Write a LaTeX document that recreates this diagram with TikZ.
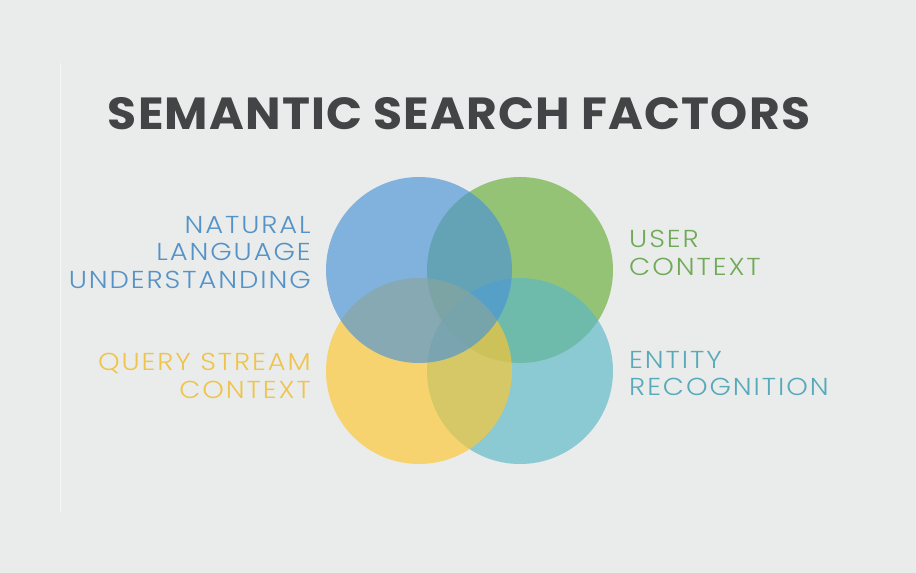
\documentclass[tikz,border=0pt]{standalone}
\usepackage{fontspec}
\setmainfont{Poppins}
\newfontfamily\labfont{Poppins}[UprightFont=* Light, LetterSpace=7]
\newfontfamily\titlefont{Poppins}[UprightFont=* Bold, LetterSpace=2.5]
\definecolor{bgc}{RGB}{233,236,234}
\definecolor{rulec}{RGB}{244,246,245}
\definecolor{titlec}{RGB}{66,68,70}
\definecolor{cblue}{RGB}{74,147,216}
\definecolor{cgreen}{RGB}{105,174,56}
\definecolor{cyellow}{RGB}{255,199,46}
\definecolor{cteal}{RGB}{90,184,200}
\definecolor{tblue}{RGB}{84,146,200}
\definecolor{tgreen}{RGB}{112,170,88}
\definecolor{tyellow}{RGB}{240,196,74}
\definecolor{tteal}{RGB}{88,170,186}
\tikzset{
  disc/.style={circle, minimum size=186pt, inner sep=0pt, fill opacity=0.65},
  lab/.style={inner sep=0pt, xscale=1.12, transform shape, font=\labfont\fontsize{24.5}{27.5}\selectfont},
  labL/.style={lab, anchor=north east, align=right},
  labR/.style={lab, anchor=north west, align=left}
}
\begin{document}
\begin{tikzpicture}[x=1pt,y=-1pt]
\fill[bgc] (0,0) rectangle (916,573);
\useasboundingbox (0,0) rectangle (916,573);
\coordinate (rt) at (60.5,63);
\coordinate (rb) at (60.5,512);
\draw[rulec, line width=1.2pt] (rt) -- (rb);
\node[font=\titlefont\fontsize{45}{50}\selectfont, text=titlec, inner sep=0pt, xscale=1.05, transform shape] (title) at (459,114) {SEMANTIC SEARCH FACTORS};
% circles: green bottom, teal, yellow, blue on top
\node[disc, fill=cgreen] (green) at (520,270) {};
\node[disc, fill=cteal] (teal) at (520,371) {};
\node[disc, fill=cyellow] (yellow) at (419,371) {};
\node[disc, fill=cblue] (blue) at (419,270) {};
% labels
\node[labL, text=tblue] (nlu) at (311,216) {NATURAL\\LANGUAGE\\UNDERSTANDING};
\node[labL, text=tyellow] (qsc) at (311,353) {QUERY STREAM\\CONTEXT};
\node[labR, text=tgreen] (uc) at (629,230) {USER\\CONTEXT};
\node[labR, text=tteal] (er) at (629,351) {ENTITY\\RECOGNITION};
\end{tikzpicture}
\end{document}
